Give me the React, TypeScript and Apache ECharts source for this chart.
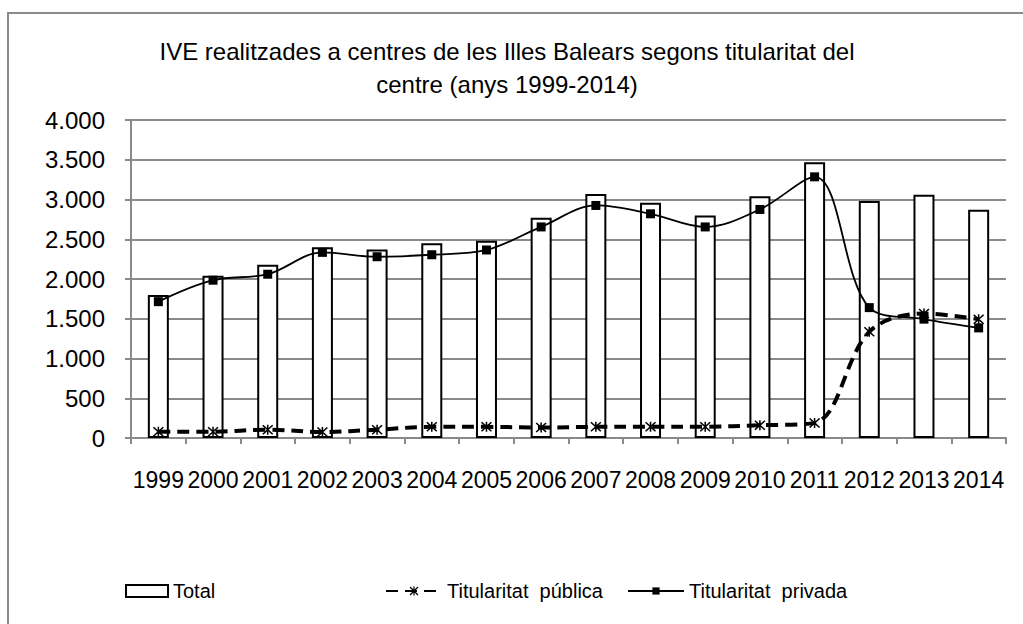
import React, { useEffect, useRef } from "react";
import * as echarts from "echarts";

const years = ["1999","2000","2001","2002","2003","2004","2005","2006","2007","2008","2009","2010","2011","2012","2013","2014"];
const total = [1800, 2040, 2180, 2400, 2370, 2450, 2480, 2770, 3070, 2960, 2800, 3040, 3470, 2980, 3060, 2870];
const publica = [80, 80, 105, 75, 105, 140, 140, 132, 140, 142, 142, 160, 190, 1335, 1565, 1495];
const privada = [1715, 1985, 2060, 2335, 2280, 2305, 2365, 2655, 2925, 2820, 2655, 2875, 3285, 1640, 1495, 1385];
const titleText = "IVE realitzades a centres de les Illes Balears segons titularitat del\ncentre (anys 1999-2014)";

const FONT = "'Liberation Sans', Arial, sans-serif";
const asterisk = "path://M0,1L1,0L10,9L9,10Z M9,0L10,1L1,10L0,9Z M4.3,0L5.7,0L5.7,10L4.3,10Z";

export default function App() {
  const ref = useRef<HTMLDivElement>(null);
  useEffect(() => {
    if (!ref.current) return;
    const chart = echarts.init(ref.current, undefined, { renderer: "svg" });
    const fmt = (v: number) => {
      const s = String(Math.round(v));
      return s.length > 3 ? s.slice(0, s.length - 3) + "." + s.slice(s.length - 3) : s;
    };
    const legendText = { fontFamily: FONT, fontSize: 20, color: "#000", lineHeight: 22 };
    chart.setOption({
      animation: false,
      backgroundColor: "#fff",
      textStyle: { fontFamily: FONT },
      title: {
        text: titleText,
        left: 502,
        top: 30,
        textAlign: "center",
        textStyle: { fontFamily: FONT, fontSize: 24, fontWeight: "normal", color: "#000", lineHeight: 33 },
      },
      graphic: [
        {
          type: "rect",
          shape: { x: 8, y: 13, width: 1040, height: 700 },
          style: { fill: "none", stroke: "#8a8a8a", lineWidth: 2 },
          silent: true,
          z: -10,
        },
      ],
      grid: { left: 131, right: 17, top: 120, bottom: 186 },
      legend: [
        {
          data: ["Total"],
          left: 125,
          top: 580,
          padding: 0,
          itemWidth: 42,
          itemHeight: 12,
          icon: "rect",
          textStyle: legendText,
        },
        {
          data: ["Titularitat  pública"],
          left: 385,
          top: 580,
          padding: 0,
          itemWidth: 56,
          itemHeight: 11,
          textStyle: legendText,
        },
        {
          data: ["Titularitat  privada"],
          left: 627,
          top: 580,
          padding: 0,
          itemWidth: 56,
          itemHeight: 9,
          textStyle: legendText,
        },
      ],
      xAxis: {
        type: "category",
        data: years,
        boundaryGap: true,
        axisLine: { lineStyle: { color: "#8a8a8a", width: 2 } },
        axisTick: { show: true, length: 6, lineStyle: { color: "#8a8a8a", width: 2 } },
        axisLabel: { fontFamily: FONT, fontSize: 23, color: "#000", margin: 30, interval: 0 },
      },
      yAxis: {
        type: "value",
        min: 0,
        max: 4000,
        interval: 500,
        axisLine: { show: true, lineStyle: { color: "#8a8a8a", width: 2 } },
        axisTick: { show: true, length: 6, lineStyle: { color: "#8a8a8a", width: 2 } },
        splitLine: { lineStyle: { color: "#8a8a8a", width: 2 } },
        axisLabel: { fontFamily: FONT, fontSize: 24, color: "#000", margin: 26, formatter: fmt },
      },
      series: [
        {
          name: "Total",
          type: "bar",
          data: total,
          barWidth: 21,
          itemStyle: { color: "#fff", borderColor: "#000", borderWidth: 2 },
          z: 1,
        },
        {
          name: "Titularitat  pública",
          type: "line",
          data: publica,
          smooth: 0.35,
          symbol: asterisk,
          symbolSize: [11, 10],
          itemStyle: { color: "#000" },
          lineStyle: { color: "#000", width: 4, type: [12, 7] },
          z: 3,
        },
        {
          name: "Titularitat  privada",
          type: "line",
          data: privada,
          smooth: 0.35,
          symbol: "rect",
          symbolSize: 9,
          itemStyle: { color: "#000" },
          lineStyle: { color: "#000", width: 1.8 },
          z: 4,
        },
      ],
    });
    return () => chart.dispose();
  }, []);
  return <div ref={ref} style={{ position: "absolute", left: 0, top: 0, width: 1023, height: 624 }} />;
}
